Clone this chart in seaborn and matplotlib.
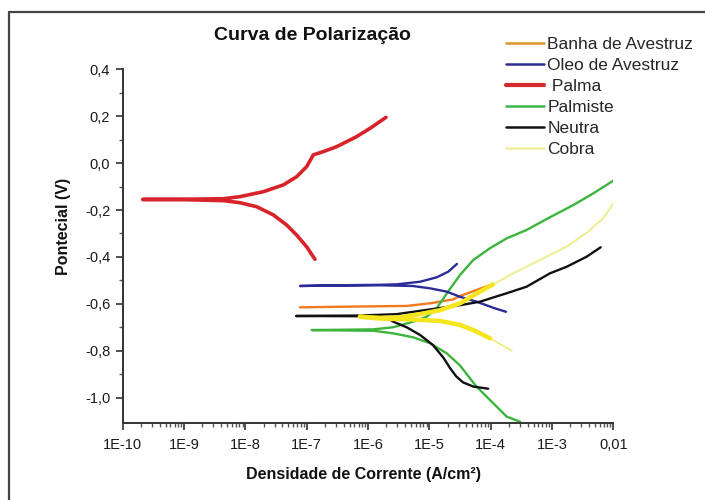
import numpy as np
import pandas as pd
import matplotlib
matplotlib.use("Agg")
import matplotlib.pyplot as plt
from matplotlib.lines import Line2D
from matplotlib.ticker import FixedLocator, LogLocator, NullFormatter
import seaborn as sns

# ---------------- data (log10 of current density, potential in V) ----------------
palma_logi = [-6.865, -7.000, -7.163, -7.326, -7.544, -7.815, -8.087, -8.360, -9.0, -9.674,
              -9.0, -8.360, -8.087, -7.707, -7.381, -7.163, -7.000, -6.892, -6.729, -6.511,
              -6.185, -5.968, -5.707]
palma_e = [-0.410, -0.357, -0.307, -0.264, -0.221, -0.186, -0.169, -0.160, -0.156, -0.155,
           -0.154, -0.152, -0.143, -0.122, -0.093, -0.058, -0.015, 0.035, 0.049, 0.070,
           0.113, 0.148, 0.195]

oleo_logi = [-3.750, -3.957, -4.228, -4.500, -4.717, -4.989, -5.270, -5.800, -6.500, -7.109,
             -6.500, -5.800, -5.532, -5.152, -4.880, -4.691, -4.550]
oleo_e = [-0.634, -0.617, -0.591, -0.570, -0.548, -0.534, -0.524, -0.521, -0.522, -0.524,
          -0.521, -0.519, -0.517, -0.506, -0.487, -0.463, -0.430]

banha_logi = [-7.109, -6.300, -5.369, -4.989, -4.610, -4.500, -4.228, -3.967]
banha_e = [-0.615, -0.612, -0.609, -0.598, -0.581, -0.567, -0.541, -0.516]

neutra_logi = [-4.040, -4.283, -4.450, -4.560, -4.660, -4.770, -4.940, -5.150, -5.370, -5.590,
               -5.640, -5.900, -6.131, -7.174, -6.131, -5.532, -5.043, -4.500, -4.174, -3.739,
               -3.413, -3.033, -2.760, -2.434, -2.206]
neutra_e = [-0.962, -0.953, -0.935, -0.910, -0.875, -0.830, -0.776, -0.733, -0.700, -0.676,
            -0.667, -0.656, -0.653, -0.652, -0.650, -0.644, -0.626, -0.606, -0.591, -0.555,
            -0.527, -0.470, -0.442, -0.399, -0.359]

palmiste_logi = [-3.520, -3.739, -3.957, -4.228, -4.500, -4.717, -4.989, -5.262, -5.588, -5.914,
                 -6.918, -5.914, -5.588, -5.262, -5.043, -4.880, -4.700, -4.500, -4.283, -4.011,
                 -3.739, -3.413, -3.033, -2.653, -2.326, -2.000]
palmiste_e = [-1.103, -1.081, -1.024, -0.954, -0.863, -0.811, -0.768, -0.743, -0.726, -0.715,
              -0.712, -0.709, -0.700, -0.676, -0.655, -0.619, -0.550, -0.477, -0.413, -0.363,
              -0.321, -0.285, -0.231, -0.179, -0.129, -0.075]

cobra_logi = [-3.657, -4.011, -4.283, -4.500, -4.826, -5.369, -5.800, -6.131,
              -5.800, -5.479, -5.152, -4.826, -4.500, -4.174, -3.967, -3.631, -3.196, -2.760,
              -2.434, -2.163, -2.000]
cobra_e = [-0.800, -0.747, -0.712, -0.690, -0.673, -0.666, -0.663, -0.655,
           -0.660, -0.658, -0.644, -0.627, -0.598, -0.548, -0.518, -0.470, -0.413, -0.356,
           -0.297, -0.235, -0.171]

legend_labels = ["Banha de Avestruz", "Oleo de Avestruz", " Palma", "Palmiste", "Neutra", "Cobra"]
y_ticks = [0.4, 0.2, 0.0, -0.2, -0.4, -0.6, -0.8, -1.0]
y_ticklabels = ["0,4", "0,2", "0,0", "-0,2", "-0,4", "-0,6", "-0,8", "-1,0"]
x_ticks = [1e-10, 1e-9, 1e-8, 1e-7, 1e-6, 1e-5, 1e-4, 1e-3, 1e-2]
x_ticklabels = ["1E-10", "1E-9", "1E-8", "1E-7", "1E-6", "1E-5", "1E-4", "1E-3", "0,01"]

# ---------------- style ----------------
sns.set_style("white")
plt.rcParams["font.family"] = ["Liberation Sans", "DejaVu Sans"]

W, H = 705, 500
fig = plt.figure(figsize=(W / 100, H / 100), dpi=100)
L, R, T, B = 122.7, 613.3, 69.3, 422.7
ax = fig.add_axes([L / W, 1 - B / H, (R - L) / W, (B - T) / H])


def series(logi, e):
    return pd.DataFrame({"i": np.power(10.0, np.array(logi)), "E": np.array(e)})


lw = 1.7
d = series(banha_logi, banha_e)
sns.lineplot(data=d, x="i", y="E", sort=False, estimator=None, color="#F07A1E", lw=lw, ax=ax)
d = series(palmiste_logi, palmiste_e)
sns.lineplot(data=d, x="i", y="E", sort=False, estimator=None, color="#3DB53D", lw=lw, ax=ax)
d = series(oleo_logi, oleo_e)
sns.lineplot(data=d, x="i", y="E", sort=False, estimator=None, color="#2C2C98", lw=lw, ax=ax)
d = series(neutra_logi, neutra_e)
sns.lineplot(data=d, x="i", y="E", sort=False, estimator=None, color="#111111", lw=lw, ax=ax)
d = series(cobra_logi, cobra_e)
sns.lineplot(data=d, x="i", y="E", sort=False, estimator=None, color="#F1EC8C", lw=1.4, ax=ax)
# bright central part of the Cobra curve (split at the tip)
tip = int(np.argmin(np.array(cobra_logi)))
mask = np.log10(d["i"].values) <= -3.95
idx = np.arange(len(d))
sns.lineplot(data=d[mask & (idx <= tip)], x="i", y="E", sort=False, estimator=None,
             color="#F5E51C", lw=3.2, ax=ax)
sns.lineplot(data=d[mask & (idx >= tip)], x="i", y="E", sort=False, estimator=None,
             color="#F5E51C", lw=3.2, ax=ax)
d = series(palma_logi, palma_e)
sns.lineplot(data=d, x="i", y="E", sort=False, estimator=None, color="#D8232A", lw=2.6, ax=ax)

ax.set_xscale("log")
ax.set_xlim(1e-10, 1e-2)
ax.set_ylim(-1.107, 0.4)
ax.set_xlabel("")
ax.set_ylabel("")

ax.xaxis.set_major_locator(FixedLocator(x_ticks))
ax.set_xticklabels(x_ticklabels)
ax.xaxis.set_minor_locator(LogLocator(base=10, subs=np.arange(2, 10), numticks=100))
ax.xaxis.set_minor_formatter(NullFormatter())
ax.set_yticks(y_ticks)
ax.set_yticklabels(y_ticklabels)
ax.yaxis.set_minor_locator(FixedLocator([0.3, 0.1, -0.1, -0.3, -0.5, -0.7, -0.9]))

for s in ["top", "right"]:
    ax.spines[s].set_visible(False)
for s in ["left", "bottom"]:
    ax.spines[s].set_color("#333333")
    ax.spines[s].set_linewidth(1.4)
ax.tick_params(which="major", direction="out", length=5, width=1.2, color="#333333",
               labelsize=10.5, labelcolor="#1a1a1a", left=True, bottom=True, pad=4)
ax.tick_params(which="minor", direction="out", length=3, width=1.0, color="#555555",
               left=True, bottom=True)
ax.tick_params(axis="x", which="major", pad=6)

# titles and labels
fig.text(312 / W, 1 - 36 / H, "Curva de Polarização", ha="center", va="center",
         fontsize=14, fontweight="bold", color="#111111")
fig.text(364 / W, 1 - 475 / H, "Densidade de Corrente (A/cm²)", ha="center", va="center",
         fontsize=11.5, fontweight="bold", color="#111111")
fig.text(63.6 / W, 1 - 226 / H, "Pontecial (V)", ha="center", va="center", rotation=90,
         fontsize=11.5, fontweight="bold", color="#111111")

# legend
leg_colors = ["#D9952E", "#2D2D8F", "#D42A2A", "#3CB84A", "#111111", "#F3EDA0"]
leg_lw = [1.8, 1.8, 3.0, 1.8, 1.8, 1.8]
handles = [Line2D([0], [0], color=c, lw=w) for c, w in zip(leg_colors, leg_lw)]
fig.legend(handles, legend_labels, loc="upper left",
           bbox_to_anchor=(505.6 / W, 1 - 37 / H), bbox_transform=fig.transFigure,
           frameon=False, fontsize=12.5, handlelength=2.2, handletextpad=0.2,
           labelspacing=0.34, borderpad=0, borderaxespad=0)

# outer frame
fig.add_artist(Line2D([9 / W, 1.0], [1 - 12 / H, 1 - 12 / H], transform=fig.transFigure,
                      color="#444444", lw=1.6))
fig.add_artist(Line2D([9 / W, 9 / W], [0.0, 1 - 12 / H], transform=fig.transFigure,
                      color="#444444", lw=1.6))

fig.savefig("out.png", dpi=100)
